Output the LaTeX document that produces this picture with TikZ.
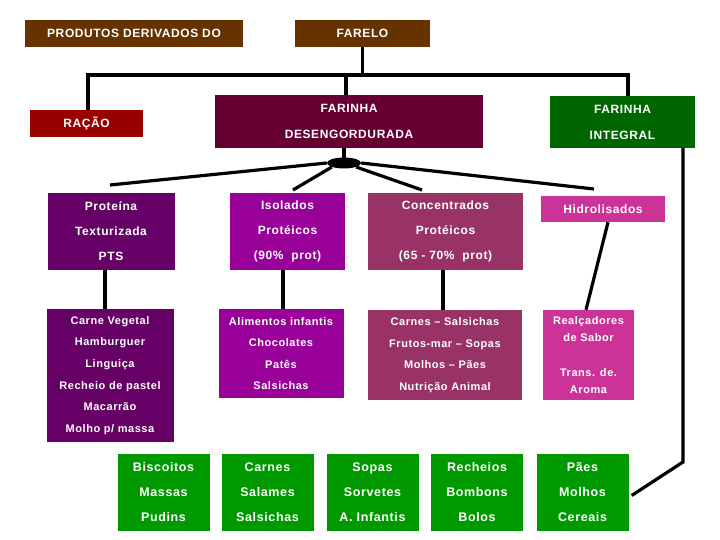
\documentclass[tikz,border=0pt]{standalone}
\usepackage{fontspec}
\usetikzlibrary{shapes.geometric}
\setmainfont[LetterSpace=5]{Liberation Sans}
\definecolor{cbrown}{HTML}{663300}
\definecolor{cracao}{HTML}{990000}
\definecolor{cfdes}{HTML}{660033}
\definecolor{cfint}{HTML}{006600}
\definecolor{cprot}{HTML}{660066}
\definecolor{ciso}{HTML}{990099}
\definecolor{cconc}{HTML}{993366}
\definecolor{chidro}{HTML}{CC3399}
\definecolor{cgreen}{HTML}{009900}
\begin{document}
\begin{tikzpicture}[x=1pt,y=-1pt,
  box/.style={draw=none, inner sep=0pt, text=white, align=center, font=\bfseries\fontsize{12}{25}\selectfont},
  small/.style={font=\bfseries\fontsize{11}{21.6}\selectfont},
  gbox/.style={box, fill=cgreen, minimum width=92pt, minimum height=77pt, font=\bfseries\fontsize{12.5}{25}\selectfont},
  conn/.style={line width=3.2pt, black}]
\useasboundingbox[fill=white] (0,0) rectangle (720,540);

% top row
\node[box, fill=cbrown, minimum width=218pt, minimum height=27pt] (prod) at (134,33.5) {PRODUTOS DERIVADOS DO};
\node[box, fill=cbrown, minimum width=135pt, minimum height=27pt] (farelo) at (362.5,33.5) {FARELO};

% second row
\node[box, fill=cracao, minimum width=113pt, minimum height=27pt] (racao) at (86.5,123.5) {RAÇÃO};
\node[box, fill=cfdes, minimum width=268pt, minimum height=53pt, font=\bfseries\fontsize{12}{26}\selectfont] (fdes) at (349,121.5) {FARINHA\\DESENGORDURADA};
\node[box, fill=cfint, minimum width=145pt, minimum height=52pt, font=\bfseries\fontsize{12}{26}\selectfont] (fint) at (622.5,122) {FARINHA\\INTEGRAL};

% hub
\node[ellipse, fill=black, inner sep=0pt, minimum width=34pt, minimum height=11pt] (hub) at (344,163) {};

% third row
\node[box, fill=cprot, minimum width=127pt, minimum height=77pt] (prot) at (111,231.5) {Proteína\\Texturizada\\PTS};
\node[box, fill=ciso, minimum width=115pt, minimum height=77pt] (iso) at (287.5,231.5) {Isolados\\Protéicos\\(90\%\ \ prot)};
\node[box, fill=cconc, minimum width=155pt, minimum height=77pt] (conc) at (445.5,231.5) {Concentrados\\Protéicos\\(65 - 70\%\ \ prot)};
\node[box, fill=chidro, minimum width=124pt, minimum height=26pt] (hidro) at (603,209) {Hidrolisados};

% fourth row
\node[box, small, fill=cprot, minimum width=127pt, minimum height=133pt] (protC) at (110,375.5) {Carne Vegetal\\Hamburguer\\Linguiça\\Recheio de pastel\\Macarrão\\Molho p/ massa};
\node[box, small, fill=ciso, minimum width=125pt, minimum height=89pt] (isoC) at (281,353.5) {Alimentos infantis\\Chocolates\\Patês\\Salsichas};
\node[box, small, fill=cconc, minimum width=154pt, minimum height=90pt] (concC) at (445,355) {Carnes – Salsichas\\Frutos-mar – Sopas\\Molhos – Pães\\Nutrição Animal};
\node[box, fill=chidro, minimum width=91pt, minimum height=90pt, font=\bfseries\fontsize{11}{17}\selectfont] (hidroC) at (588.5,355) {Realçadores\\de Sabor\\[18pt]Trans. de.\\Aroma};

% green row
\node[gbox] (g1) at (163.5,492.5) {Biscoitos\\Massas\\Pudins};
\node[gbox] (g2) at (267.5,492.5) {Carnes\\Salames\\Salsichas};
\node[gbox] (g3) at (372.5,492.5) {Sopas\\Sorvetes\\A. Infantis};
\node[gbox] (g4) at (477,492.5) {Recheios\\Bombons\\Bolos};
\node[gbox] (g5) at (582.5,492.5) {Pães\\Molhos\\Cereais};

% connectors
\coordinate (bus) at (0,75);
\draw[conn] (farelo.south) -- (farelo.south |- bus);
\draw[conn] ([xshift=1.5pt]racao.north) -- ([xshift=1.5pt]racao.north |- bus) -- ([xshift=5.5pt]fint.north |- bus) -- ([xshift=5.5pt]fint.north);
\draw[conn] ([xshift=-3pt]fdes.north) -- ([xshift=-3pt]fdes.north |- bus);

\draw[conn] ([xshift=-5pt]fdes.south) -- (hub.center);
\coordinate (e1) at (110,185);
\coordinate (e2) at (293,190);
\coordinate (e3) at (422,190);
\coordinate (e4) at (594,189);
\draw[conn] (hub.west) -- (e1);
\draw[conn] (hub.south west) -- (e2);
\draw[conn] (hub.south east) -- (e3);
\draw[conn] (hub.east) -- (e4);

\draw[conn] ([xshift=-5pt]protC.north |- prot.south) -- ([xshift=-5pt]protC.north);
\draw[conn] ([xshift=2pt]isoC.north) -- ([xshift=2pt]isoC.north |- iso.south);
\draw[conn] ([xshift=-2pt]concC.north) -- ([xshift=-2pt]concC.north |- conc.south);
\draw[conn] ([xshift=5pt]hidro.south) -- ([xshift=-2.5pt]hidroC.north);

\coordinate (bend) at (683,462);
\draw[conn] (fint.south -| bend) -- (bend) -- ([xshift=3pt,yshift=-3pt]g5.east);
\end{tikzpicture}
\end{document}
